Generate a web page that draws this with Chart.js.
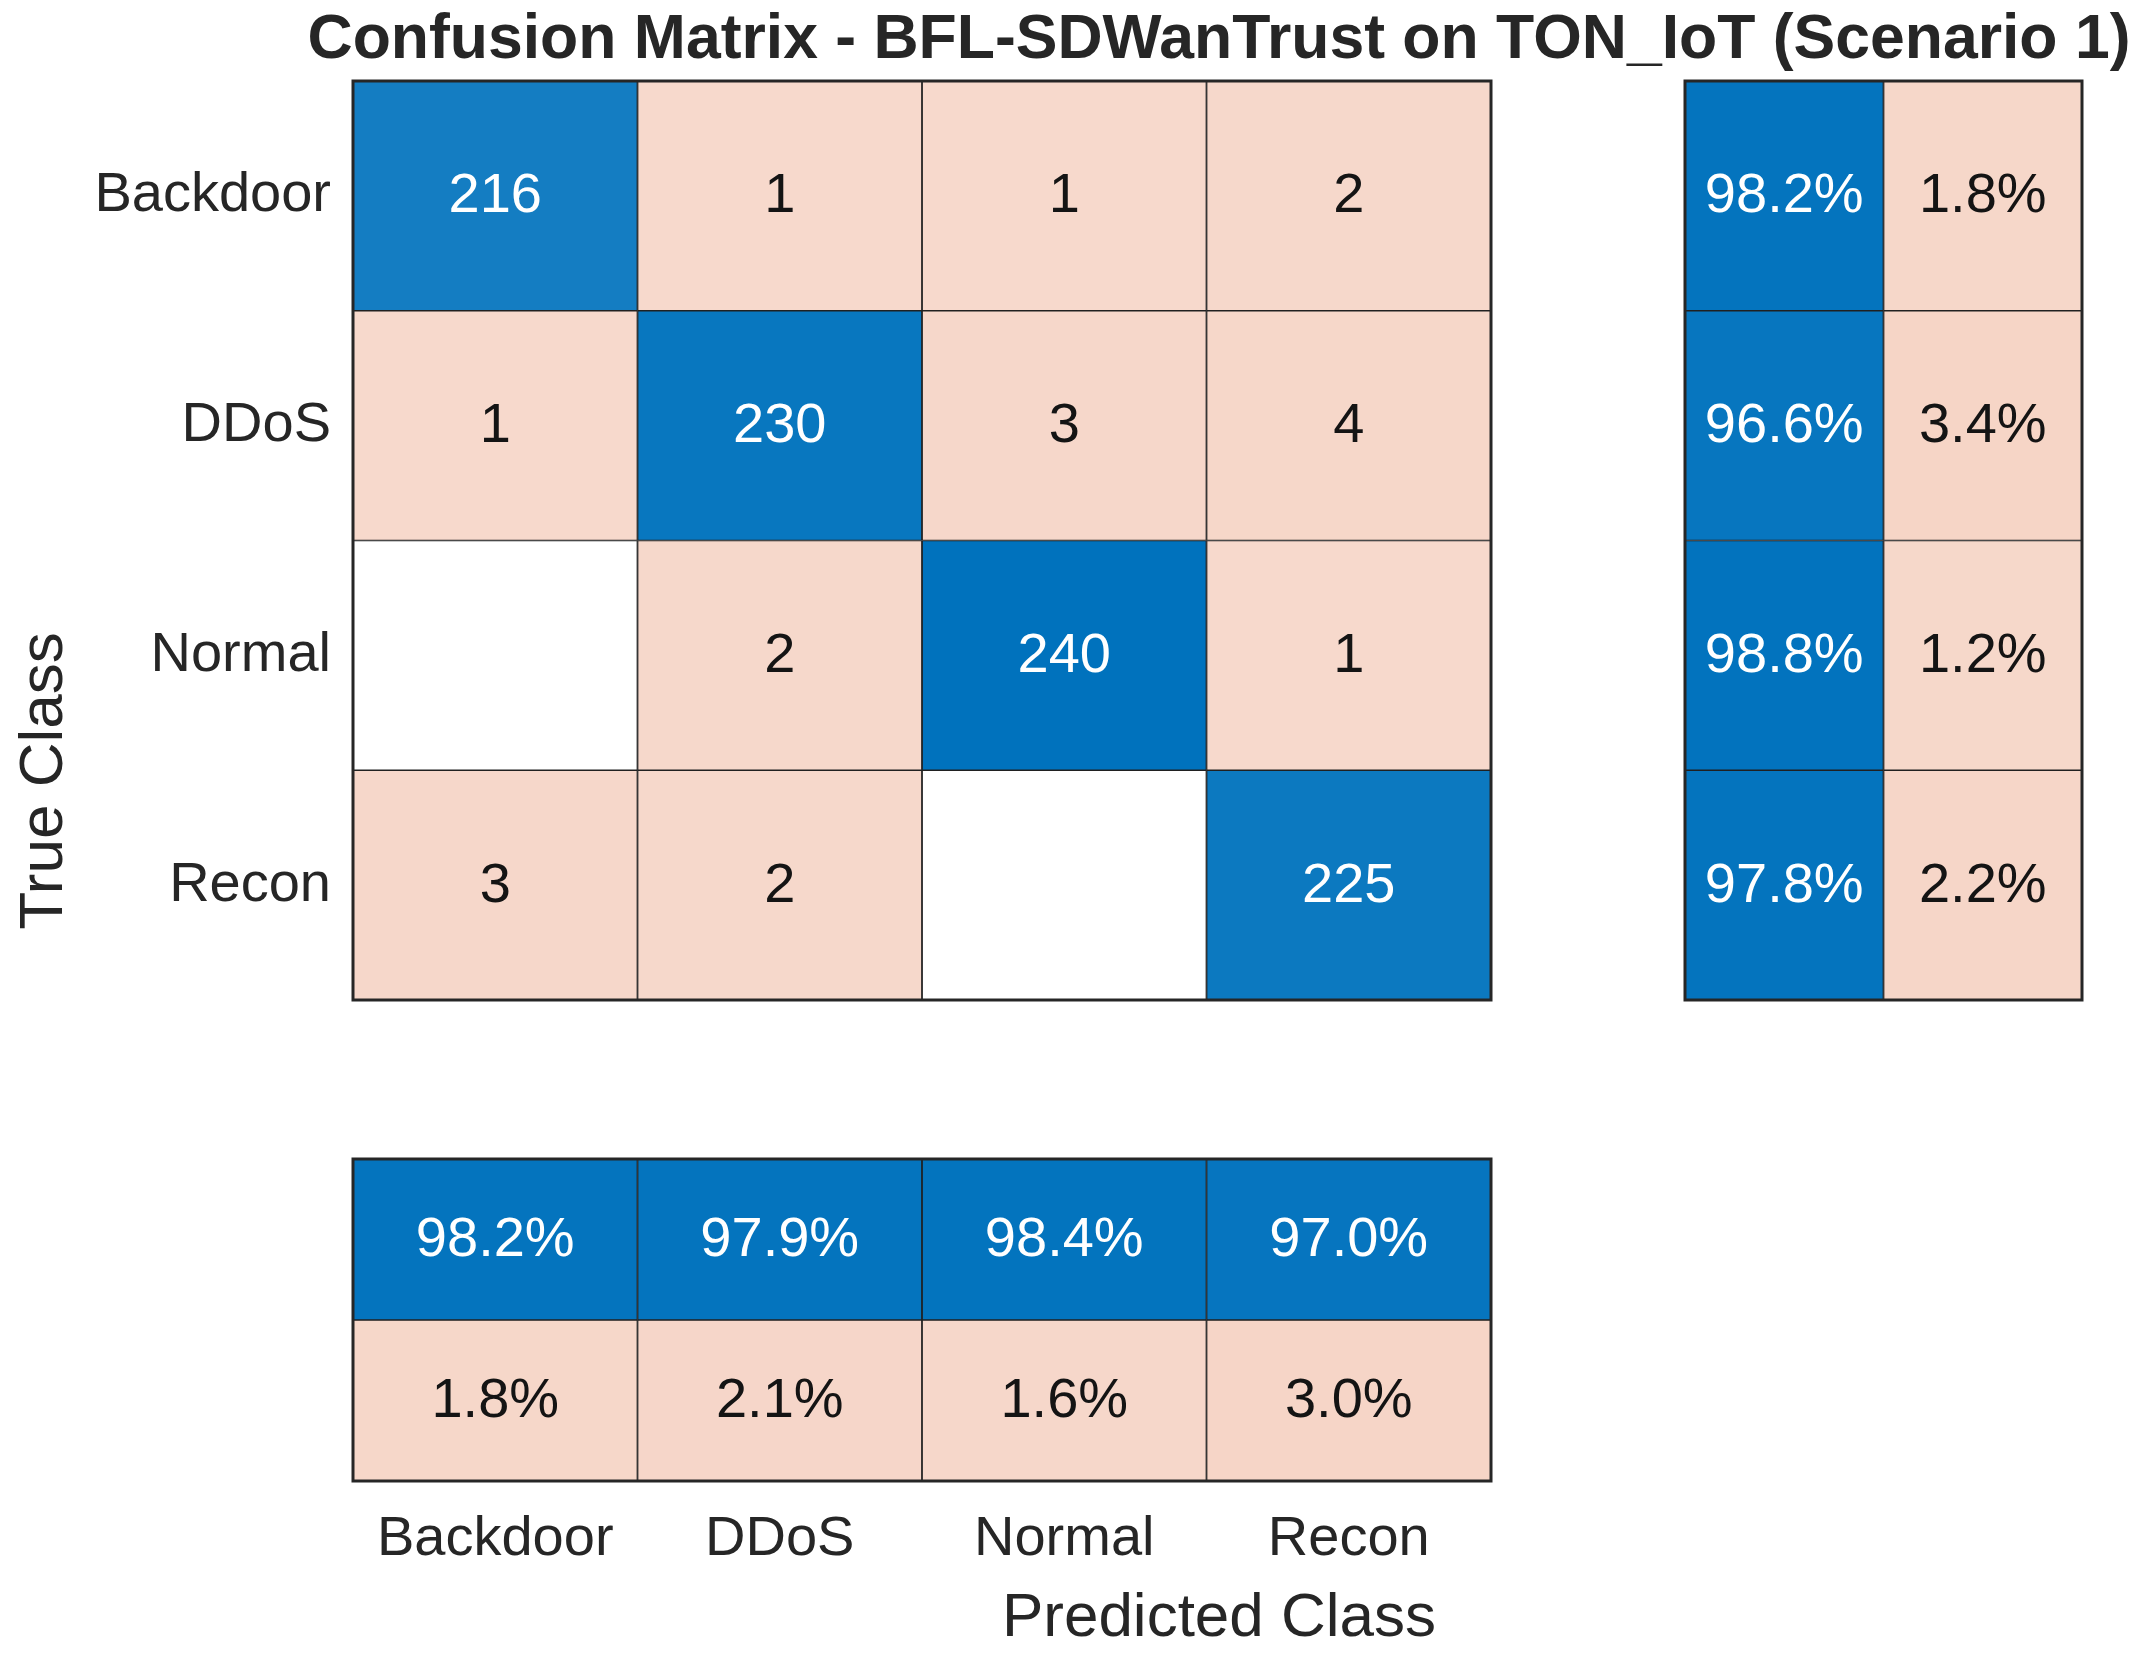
<!DOCTYPE html>
<html>
<head>
<meta charset="utf-8">
<script src="https://cdn.jsdelivr.net/npm/chart.js@4.4.0/dist/chart.umd.min.js"></script>
<style>
html, body { margin: 0; padding: 0; background: #ffffff; }
body { width: 2145px; height: 1660px; position: relative; overflow: hidden; font-family: "Liberation Sans", Arial, sans-serif; }
canvas { position: absolute; }
.txt { position: absolute; white-space: nowrap; color: #262626; font-size: 62px; line-height: 62px; }
</style>
</head>
<body>
<div id="title" class="txt" style="font-weight:bold; left:1219px; top:5px; transform:translateX(-50%); font-size:62.5px;"></div>
<div id="xlabel" class="txt" style="left:1219px; top:1584px; transform:translateX(-50%);"></div>
<div id="ylabel" class="txt" style="left:41px; top:781px; transform:translate(-50%,-50%) rotate(-90deg);"></div>
<canvas id="main" width="1501" height="939" style="left:0px; top:71px;"></canvas>
<canvas id="right" width="417" height="939" style="left:1675px; top:71px;"></canvas>
<canvas id="bottom" width="1158" height="450" style="left:343px; top:1149px;"></canvas>
<script>
// ---------- data ----------
const chartTitle = 'Confusion Matrix - BFL-SDWanTrust on TON_IoT (Scenario 1)';
const xAxisTitle = 'Predicted Class';
const yAxisTitle = 'True Class';

const trueClasses = ['Backdoor', 'DDoS', 'Normal', 'Recon'];
const predictedClasses = ['Backdoor', 'DDoS', 'Normal', 'Recon'];

// rows = true class, columns = predicted class
const countsBackdoor = [216, 1, 1, 2];
const countsDDoS     = [1, 230, 3, 4];
const countsNormal   = [0, 2, 240, 1];
const countsRecon    = [3, 2, 0, 225];
const counts = [countsBackdoor, countsDDoS, countsNormal, countsRecon];

// row summary (right panel)
const rowCorrectPct   = [98.2, 96.6, 98.8, 97.8];
const rowIncorrectPct = [1.8, 3.4, 1.2, 2.2];

// column summary (bottom panel)
const colCorrectPct   = [98.2, 97.9, 98.4, 97.0];
const colIncorrectPct = [1.8, 2.1, 1.6, 3.0];

// ---------- styling helpers ----------
const DIAG_RGB = [0, 114, 189];
const OFF_RGB = [217, 83, 25];
const FONT_FAMILY = '"Liberation Sans", Arial, sans-serif';
const LINE_COLOR = '#262626';

function shade(base, t) {
  const k = 0.22 + 0.78 * Math.max(0, Math.min(1, t));
  return 'rgb(' + base.map(c => Math.round(255 - k * (255 - c))).join(',') + ')';
}
const maxCount = Math.max(...counts.flat());
function cellColor(i, j) {
  const v = counts[i][j];
  if (v === 0) return '#ffffff';
  return shade(i === j ? DIAG_RGB : OFF_RGB, v / maxCount);
}
function cellTextColor(i, j) {
  return i === j ? '#ffffff' : '#141414';
}
const pct = v => v.toFixed(1) + '%';

document.getElementById('title').textContent = chartTitle;
document.getElementById('xlabel').textContent = xAxisTitle;
document.getElementById('ylabel').textContent = yAxisTitle;

// ---------- plugins ----------
const cellText = {
  id: 'cellText',
  afterDatasetsDraw(chart) {
    const ctx = chart.ctx;
    ctx.save();
    ctx.font = '56px ' + FONT_FAMILY;
    ctx.textAlign = 'center';
    ctx.textBaseline = 'middle';
    chart.data.datasets.forEach((ds, di) => {
      const meta = chart.getDatasetMeta(di);
      meta.data.forEach((el, i) => {
        const txt = ds.cellLabels[i];
        if (!txt) return;
        const p = el.getCenterPoint();
        ctx.fillStyle = ds.textColors[i];
        ctx.fillText(txt, p.x, p.y + 1);
      });
    });
    ctx.restore();
  }
};
const frame = {
  id: 'frame',
  afterDraw(chart) {
    const a = chart.chartArea;
    const ctx = chart.ctx;
    ctx.save();
    ctx.strokeStyle = LINE_COLOR;
    ctx.lineWidth = 3;
    ctx.strokeRect(a.left, a.top, a.right - a.left, a.bottom - a.top);
    ctx.restore();
  }
};

const barDefaults = {
  grouped: false,
  barPercentage: 1,
  categoryPercentage: 1,
  borderColor: '#202020',
  borderWidth: 1.2,
  borderSkipped: false
};
const commonPlugins = { legend: { display: false }, tooltip: { enabled: false }, title: { display: false } };
function noScalePadding(s) {
  s.paddingTop = 0; s.paddingBottom = 0; s.paddingLeft = 0; s.paddingRight = 0;
}

// ---------- main matrix ----------
new Chart(document.getElementById('main'), {
  type: 'bar',
  data: {
    labels: trueClasses,
    datasets: predictedClasses.map((pc, j) => ({
      label: pc,
      data: trueClasses.map(() => [j, j + 1]),
      backgroundColor: trueClasses.map((tc, i) => cellColor(i, j)),
      cellLabels: trueClasses.map((tc, i) => counts[i][j] ? String(counts[i][j]) : ''),
      textColors: trueClasses.map((tc, i) => cellTextColor(i, j))
    }))
  },
  options: {
    indexAxis: 'y',
    responsive: false,
    animation: false,
    layout: { autoPadding: false, padding: { top: 10, bottom: 10, right: 10, left: 0 } },
    datasets: { bar: barDefaults },
    plugins: commonPlugins,
    scales: {
      x: { type: 'linear', min: 0, max: predictedClasses.length, display: false },
      y: {
        type: 'category',
        grid: { display: false, drawTicks: false },
        border: { display: false },
        ticks: { font: { size: 56, family: FONT_FAMILY }, color: LINE_COLOR, padding: 22 },
        afterFit(s) { s.width = 353; noScalePadding(s); }
      }
    }
  },
  plugins: [cellText, frame]
});

// ---------- right (row summary) ----------
const rowSummary = [rowCorrectPct, rowIncorrectPct];
new Chart(document.getElementById('right'), {
  type: 'bar',
  data: {
    labels: trueClasses,
    datasets: rowSummary.map((vals, j) => ({
      label: j === 0 ? 'correct' : 'incorrect',
      data: trueClasses.map(() => [j, j + 1]),
      backgroundColor: vals.map(v => shade(j === 0 ? DIAG_RGB : OFF_RGB, v / 100)),
      cellLabels: vals.map(pct),
      textColors: vals.map(() => j === 0 ? '#ffffff' : '#141414')
    }))
  },
  options: {
    indexAxis: 'y',
    responsive: false,
    animation: false,
    layout: { autoPadding: false, padding: 10 },
    datasets: { bar: barDefaults },
    plugins: commonPlugins,
    scales: {
      x: { type: 'linear', min: 0, max: rowSummary.length, display: false },
      y: { type: 'category', display: false }
    }
  },
  plugins: [cellText, frame]
});

// ---------- bottom (column summary) ----------
const colSummary = [colCorrectPct, colIncorrectPct];
new Chart(document.getElementById('bottom'), {
  type: 'bar',
  data: {
    labels: predictedClasses,
    datasets: colSummary.map((vals, j) => ({
      label: j === 0 ? 'correct' : 'incorrect',
      data: predictedClasses.map(() => [colSummary.length - j - 1, colSummary.length - j]),
      backgroundColor: vals.map(v => shade(j === 0 ? DIAG_RGB : OFF_RGB, v / 100)),
      cellLabels: vals.map(pct),
      textColors: vals.map(() => j === 0 ? '#ffffff' : '#141414')
    }))
  },
  options: {
    indexAxis: 'x',
    responsive: false,
    animation: false,
    layout: { autoPadding: false, padding: { top: 10, left: 10, right: 10, bottom: 0 } },
    datasets: { bar: barDefaults },
    plugins: commonPlugins,
    scales: {
      y: { type: 'linear', min: 0, max: colSummary.length, display: false },
      x: {
        type: 'category',
        grid: { display: false, drawTicks: false },
        border: { display: false },
        ticks: { font: { size: 56, family: FONT_FAMILY }, color: LINE_COLOR, padding: 25, maxRotation: 0 },
        afterFit(s) { s.height = 118; noScalePadding(s); }
      }
    }
  },
  plugins: [cellText, frame]
});
</script>
</body>
</html>
